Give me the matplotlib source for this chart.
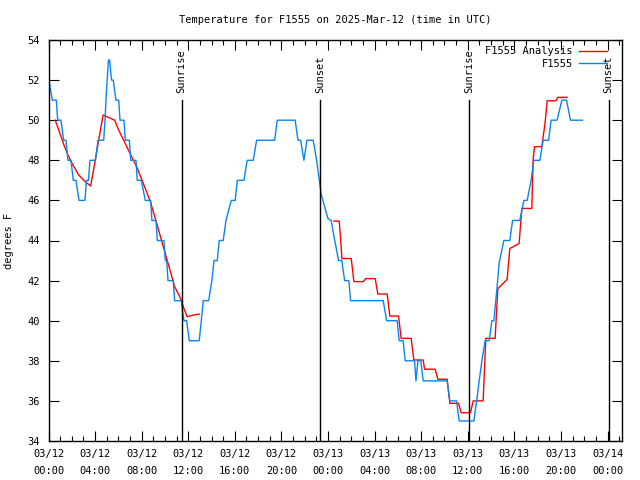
import numpy as np
import matplotlib
matplotlib.use('Agg')
import matplotlib.pyplot as plt
from matplotlib.ticker import MultipleLocator

# hours since 2025-03-12 00:00 UTC
obs_hours = [0.04, 0.33, 0.67, 0.79, 1.07, 1.30, 1.50, 1.67, 1.93, 2.13, 2.36, 2.62,
             3.13, 3.26, 3.43, 3.56, 4.03, 4.25, 4.74, 4.85, 4.98, 5.15, 5.25, 5.41,
             5.56, 5.79, 6.03, 6.14, 6.48, 6.59, 6.94, 7.06, 7.51, 7.62, 7.97, 8.31,
             8.77, 8.88, 9.23, 9.34, 9.91, 10.03, 10.15, 10.26, 10.71, 10.83, 11.40,
             11.52, 11.63, 11.86, 12.09, 12.94, 13.12, 13.29, 13.75, 14.03, 14.21,
             14.49, 14.66, 15.00, 15.24, 15.69, 16.03, 16.21, 16.78, 17.06, 17.58,
             17.87, 19.42, 19.64, 21.18, 21.42, 21.65, 21.93, 22.19, 22.73, 23.02,
             23.30, 23.42, 23.65, 23.99, 24.27, 24.39, 24.51, 24.74, 24.91, 25.19,
             25.30, 25.43, 25.79, 25.94, 28.74, 29.03, 29.94, 30.11, 30.45, 30.63,
             31.43, 31.55, 31.72, 31.97, 32.17, 34.23, 34.46, 35.04, 35.26, 36.52,
             36.76, 36.98, 37.21, 37.49, 37.84, 38.07, 38.24, 38.52, 38.70, 39.10,
             39.61, 39.85, 40.47, 40.82, 41.10, 41.44, 41.67, 42.19, 42.47, 42.94,
             43.16, 43.67, 44.08, 44.48, 44.82, 45.85]
obs_temp = [52, 51, 51, 50, 50, 49, 49, 48, 48, 47, 47, 46,
            46, 47, 47, 48, 48, 49, 49, 50, 51.5, 53, 53, 52,
            52, 51, 51, 50, 50, 49, 49, 48, 48, 47, 47, 46,
            46, 45, 45, 44, 44, 43, 43, 42, 42, 41, 41,
            40.4, 40, 40, 39, 39, 40, 41, 41, 42, 43,
            43, 44, 44, 45, 46, 46, 47, 47, 48, 48,
            49, 49, 50, 50, 49, 49, 48, 49, 49, 48,
            46.8, 46.3, 45.8, 45.1, 45, 44.6, 44.2, 43.5, 43, 43,
            42.5, 42, 42, 41, 41, 40, 40, 39, 39, 38,
            38, 37, 38, 38, 37, 37, 36, 36, 35, 35,
            36, 37, 38, 39, 39, 40, 40, 41.7, 42.9, 44,
            44, 45, 45, 46, 46, 47, 48, 48, 49, 49,
            50, 50, 51, 51, 50, 50]

ana1_hours = [0.58, 1.33, 1.67, 2.02, 2.59, 3.16, 3.62, 3.97, 4.31, 4.53, 4.70, 5.00,
              5.68, 6.03, 6.59, 7.00, 7.57, 8.14, 8.71, 9.29, 9.85, 10.43, 10.83,
              11.35, 11.63, 11.91, 12.43, 12.94]
ana1_temp = [50.0, 48.76, 48.26, 47.85, 47.27, 46.93, 46.72, 47.85, 49.0, 49.76, 50.26,
             50.18, 50.0, 49.5, 48.84, 48.34, 47.68, 46.85, 46.0, 44.86, 43.7, 42.53,
             41.7, 41.1, 40.6, 40.2, 40.28, 40.33]

ana2_hours = [24.51, 24.96, 25.08, 25.19, 25.99, 26.11, 26.22, 27.02, 27.25, 28.05,
              28.28, 29.08, 29.31, 30.06, 30.28, 31.14, 31.37, 32.17, 32.29, 33.20,
              33.43, 34.23, 34.46, 35.21, 35.43, 36.24, 36.46, 37.32, 37.55, 38.35,
              38.58, 39.38, 39.61, 40.41, 40.64, 41.50, 41.61, 41.73, 42.36, 42.64,
              42.82, 43.56, 43.73, 44.53]
ana2_temp = [44.97, 44.97, 44.1, 43.1, 43.1, 42.53, 41.95, 41.95, 42.1, 42.1,
             41.33, 41.33, 40.23, 40.23, 39.12, 39.12, 38.04, 38.04, 37.58, 37.58,
             37.08, 37.08, 35.88, 35.88, 35.41, 35.41, 36.0, 36.0, 39.12, 39.12,
             41.6, 42.06, 43.6, 43.85, 45.6, 45.6, 48.0, 48.68, 48.68, 49.88,
             50.97, 50.97, 51.14, 51.14]

sun_hours = [11.42, 23.35, 36.10, 48.10]
sun_labels = ['Sunrise', 'Sunset', 'Sunrise', 'Sunset']

tick_hours = list(range(0, 49, 4))
tick_labels = ['03/12\n00:00', '03/12\n04:00', '03/12\n08:00', '03/12\n12:00',
               '03/12\n16:00', '03/12\n20:00', '03/13\n00:00', '03/13\n04:00',
               '03/13\n08:00', '03/13\n12:00', '03/13\n16:00', '03/13\n20:00',
               '03/14\n00:00']

plt.rcParams['font.family'] = ['DejaVu Sans Mono']
fs = 7.5

fig = plt.figure(figsize=(6.4, 4.8), dpi=100)
ax = fig.add_axes([48.5 / 640, 39 / 480, 573 / 640, 401 / 480])

red = '#ff0000'
blue = '#0a84f0'
ax.plot(ana1_hours, ana1_temp, color=red, lw=1.0, label='F1555 Analysis')
ax.plot(ana2_hours, ana2_temp, color=red, lw=1.0)
ax.plot(obs_hours, obs_temp, color=blue, lw=1.0, label='F1555')

for h, lab in zip(sun_hours, sun_labels):
    ax.plot([h, h], [34, 51], color='black', lw=1.0)
    ax.text(h, 51.35, lab, rotation=90, ha='center', va='bottom', fontsize=fs)

ax.set_xlim(0, 49.2)
ax.set_ylim(34, 54)
ax.set_xticks(tick_hours)
ax.set_xticklabels(tick_labels, fontsize=fs, linespacing=1.8)
ax.xaxis.set_minor_locator(MultipleLocator(1))
ax.yaxis.set_major_locator(MultipleLocator(2))
ax.tick_params(axis='y', labelsize=fs)
ax.tick_params(which='major', direction='in', length=7, width=0.8,
               top=True, right=True, pad=6)
ax.tick_params(which='minor', direction='in', length=3.5, width=0.8, top=True)
ax.set_ylabel('degrees F', fontsize=fs, labelpad=10)
ax.set_title('Temperature for F1555 on 2025-Mar-12 (time in UTC)', fontsize=fs, pad=12)

for s in ax.spines.values():
    s.set_linewidth(1.0)

ax.legend(loc='upper right', frameon=False, markerfirst=False, fontsize=fs,
          handlelength=2.7, handletextpad=0.6, labelspacing=0.25,
          borderaxespad=0, bbox_to_anchor=(0.982, 0.995))

fig.savefig('out.png', dpi=100)
